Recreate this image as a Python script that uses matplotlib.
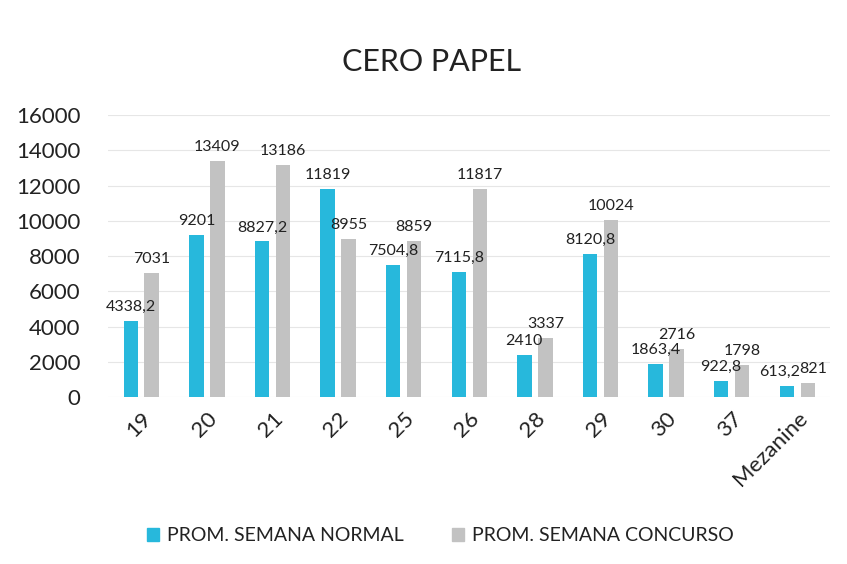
import matplotlib.pyplot as plt
import numpy as np
from matplotlib.patches import Patch

plt.rcParams['font.family'] = ['Lato', 'DejaVu Sans']

categories = ["19", "20", "21", "22", "25", "26", "28", "29", "30", "37", "Mezanine"]
normal = [4338.2, 9201, 8827.2, 11819, 7504.8, 7115.8, 2410, 8120.8, 1863.4, 922.8, 613.2]
concurso = [7031, 13409, 13186, 8955, 8859, 11817, 3337, 10024, 2716, 1798, 821]

BLUE = "#27b8dc"
GREY = "#c2c2c2"

fmt = lambda v: f"{v:g}".replace(".", ",")

fig = plt.figure(figsize=(8.47, 5.64), dpi=100)
ax = fig.add_axes([0.128, 0.296, 0.852, 0.5])

x = np.arange(len(categories))
w = 0.22
off = 0.16
b1 = ax.bar(x - off, normal, w, color=BLUE, zorder=2)
b2 = ax.bar(x + off, concurso, w, color=GREY, zorder=2)

last = len(categories) - 1
for k, (bars, vals) in enumerate(((b1, normal), (b2, concurso))):
    for i, (bar, v) in enumerate(zip(bars, vals)):
        # the two Mezanine labels crowd each other, push them apart a little
        dx = (-5 if k == 0 else 4) if i == last else 0
        ax.annotate(fmt(v), (bar.get_x() + bar.get_width() / 2, v),
                    xytext=(dx, 5), textcoords="offset points",
                    ha="center", va="bottom", fontsize=11.5, color="#222222")

ax.set_ylim(0, 16000)
ax.set_xlim(-0.5, len(categories) - 0.5)
ax.set_yticks(range(0, 16001, 2000))
ax.tick_params(axis="y", labelsize=16, length=0, pad=20, colors="#222222")
ax.set_xticks(x)
ax.set_xticklabels(categories, rotation=45, ha="right", rotation_mode="anchor",
                   fontsize=16, color="#222222")
ax.tick_params(axis="x", length=0, pad=8)
ax.grid(axis="y", color="#e6e6e6", lw=0.8, zorder=0)
for s in ax.spines.values():
    s.set_visible(False)

fig.text(0.51, 0.89, "CERO PAPEL", ha="center", va="center", fontsize=22, color="#222222")

handles = [Patch(color=BLUE), Patch(color=GREY)]
fig.legend(handles, ["PROM. SEMANA NORMAL", "PROM. SEMANA CONCURSO"],
           loc="center", bbox_to_anchor=(0.52, 0.05), ncol=2, frameon=False,
           fontsize=14, handlelength=0.6, handleheight=0.6, handletextpad=0.4,
           columnspacing=2.5, labelcolor="#222222")

fig.savefig("out.png", dpi=100)
